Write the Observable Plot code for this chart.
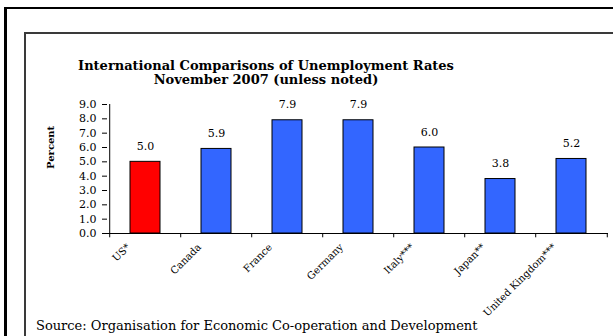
<!DOCTYPE html>
<html>
<head>
<meta charset="utf-8">
<script src="https://cdn.jsdelivr.net/npm/d3@7"></script>
<script src="https://cdn.jsdelivr.net/npm/@observablehq/plot@0.6"></script>
<style>
  html, body { margin: 0; padding: 0; background: #fff; overflow: hidden; }
  #wrap { position: relative; width: 613px; height: 336px; overflow: hidden; font-family: "DejaVu Serif", serif; }
  #outer { position: absolute; left: 4px; top: 7px; width: 800px; height: 500px; border-left: 3px solid #000; border-top: 2px solid #000; }
  #inner { position: absolute; left: 24px; top: 32px; width: 800px; height: 500px; border-left: 2px solid #3a3a3a; border-top: 2px solid #3a3a3a; }
  #title { position: absolute; left: 66px; width: 400px; top: 59px; text-align: center; font-weight: bold; font-size: 13px; line-height: 14px; color: #000; }
  #source { position: absolute; left: 36px; top: 318px; font-size: 13px; white-space: nowrap; color: #000; }
  #chart { position: absolute; left: 0; top: 0; }
</style>
</head>
<body>
<div id="wrap">
  <div id="outer"></div>
  <div id="inner"></div>
  <div id="title">International Comparisons of Unemployment Rates<br>November 2007 (unless noted)</div>
  <div id="chart"></div>
  <div id="source">Source: Organisation for Economic Co-operation and Development</div>
</div>
<script>
const countries = ["US*", "Canada", "France", "Germany", "Italy***", "Japan**", "United Kingdom***"];
const rates = [5.0, 5.9, 7.9, 7.9, 6.0, 3.8, 5.2];
const barColors = ["#FF0000", "#3366FF", "#3366FF", "#3366FF", "#3366FF", "#3366FF", "#3366FF"];
const yTicks = [0, 1, 2, 3, 4, 5, 6, 7, 8, 9];
const yLabel = "Percent";

const data = countries.map((c, i) => ({country: c, rate: rates[i], color: barColors[i]}));

const W = 613, H = 336;
const mL = 107, mR = 5, mT = 104, mB = 103;
const step = (W - mL - mR) / countries.length;

const chart = Plot.plot({
  width: W,
  height: H,
  marginLeft: mL,
  marginRight: mR,
  marginTop: mT,
  marginBottom: mB,
  style: { fontFamily: "DejaVu Serif", fontSize: "11px", color: "#000", background: "transparent" },
  x: { domain: countries, paddingInner: 0.58, paddingOuter: 0.29, align: 0.5 },
  y: { domain: [0, 9] },
  color: { type: "identity" },
  marks: [
    Plot.barY(data, { x: "country", y: "rate", fill: "color", stroke: "#000", strokeWidth: 1 }),
    Plot.text(data, { x: "country", y: "rate", text: d => d.rate.toFixed(1), dy: -12, fontSize: 11, lineAnchor: "bottom" }),
    Plot.axisY({ ticks: yTicks, tickFormat: d3.format(".1f"), tickSize: 5, tickPadding: 6, label: null, fontSize: 11 }),
    Plot.ruleY([0], { stroke: "#000", strokeWidth: 1 }),
    Plot.ruleX([countries[0]], { x: d => d, dx: -step / 2, y1: 0, y2: 9, stroke: "#000" }),
    Plot.ruleX(countries, { x: d => d, dx: -step / 2, y1: 0, y2: -0.3, stroke: "#000" }),
    Plot.ruleX([countries[countries.length - 1]], { x: d => d, dx: step / 2, y1: 0, y2: -0.3, stroke: "#000" }),
    Plot.axisX({ tickSize: 0, tickPadding: 12, tickRotate: -45, dx: -17, label: null, fontSize: 10 }),
    Plot.text([yLabel], { frameAnchor: "left", text: d => d, rotate: -90, dx: -57, fontWeight: "bold", fontSize: 10 })
  ]
});
document.getElementById("chart").appendChild(chart);
</script>
</body>
</html>
